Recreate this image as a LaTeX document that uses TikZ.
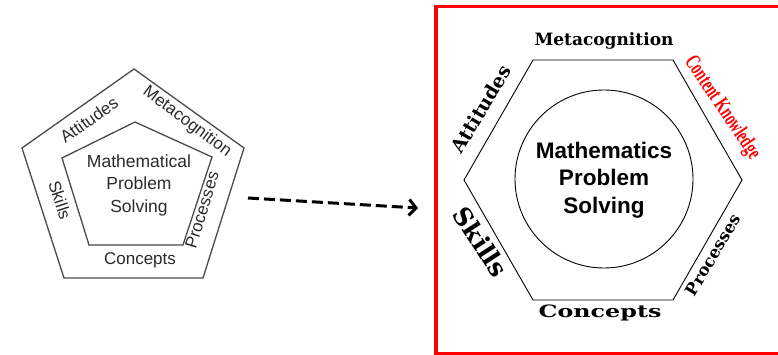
\documentclass[tikz,border=0pt]{standalone}
\usepackage{fontspec}
\setmainfont{Liberation Sans}
\newfontfamily\bkfont{DejaVu Serif}
\newfontfamily\ckfont{Liberation Serif}
\usetikzlibrary{arrows.meta}
\definecolor{lgray}{HTML}{4A4A4A}
\definecolor{ltext}{HTML}{2A2A2A}
\tikzset{
  leftline/.style={draw=lgray, line width=1.3pt, line join=miter},
  leftlabel/.style={text=ltext, inner sep=0pt, font=\fontsize{17}{20}\selectfont},
  rightline/.style={draw=black, line width=0.9pt},
  rightlabel/.style={inner sep=0pt, font=\bkfont\bfseries\fontsize{17}{20}\selectfont},
  centertext/.style={align=center, inner sep=0pt},
}
\begin{document}
\begin{tikzpicture}[x=1pt,y=-1pt]
\useasboundingbox (0,0) rectangle (778,355);
% ---------- left pentagon ----------
\coordinate (o1) at (134,69);
\coordinate (o2) at (244,148);
\coordinate (o3) at (203,278);
\coordinate (o4) at (64,278);
\coordinate (o5) at (22,148);
\coordinate (i1) at (135,122);
\coordinate (i2) at (212,157);
\coordinate (i3) at (183,245);
\coordinate (i4) at (89,245);
\coordinate (i5) at (62,158);
\draw[leftline] (o1) -- (o2) -- (o3) -- (o4) -- (o5) -- cycle;
\draw[leftline] (i1) -- (i2) -- (i3) -- (i4) -- (i5) -- cycle;
\node[centertext, text=ltext, font=\fontsize{17.5}{22.5}\selectfont] (lmps) at (139,185) {Mathematical\\Problem\\Solving};
\node[leftlabel, rotate=35] (latt) at (89,120) {Attitudes};
\node[leftlabel, rotate=-37] (lmet) at (187,122) {Metacognition};
\node[leftlabel, rotate=-72] (lski) at (60,200) {Skills};
\node[leftlabel, rotate=73] (lpro) at (202,210) {Processes};
\node[leftlabel] (lcon) at (140,260) {Concepts};
% ---------- arrow ----------
\coordinate (as) at (248,198);
\coordinate (ae) at (418,208);
\draw[line width=3pt, dash pattern=on 11pt off 5pt, -{Straight Barb[length=7pt,width=16pt,line width=3pt]}] (as) -- (ae);
% ---------- right panel ----------
\draw[red, line width=3.5pt] (436,355) -- (436,6.5) -- (790,6.5);
\draw[red, line width=3.5pt] (436,354) -- (790,354);
\coordinate (h1) at (533,60);
\coordinate (h2) at (673,60);
\coordinate (h3) at (742,180);
\coordinate (h4) at (673,300);
\coordinate (h5) at (533,300);
\coordinate (h6) at (464,180);
\draw[rightline] (h1) -- (h2) -- (h3) -- (h4) -- (h5) -- (h6) -- cycle;
\node[rightline, circle, minimum size=178pt, inner sep=0pt] (circ) at (604,179) {};
\node[centertext, font=\bfseries\fontsize{22.5}{27.5}\selectfont] (rmps) at (604,180) {Mathematics\\Problem\\Solving};
\node[rightlabel] (rmet) at (604,41) {Metacognition};
\node[rightlabel, rotate=59, font=\bkfont\bfseries\fontsize{19}{20}\selectfont] (ratt) at (481,109) {Attitudes};
\node[inner sep=0pt, rotate=-56, text=red, font=\ckfont\bfseries\fontsize{22}{24}\selectfont] (rck) at (722,108) {\scalebox{0.64}[1]{Content Knowledge}};
\node[rightlabel, rotate=-57, font=\bkfont\bfseries\fontsize{25}{26}\selectfont] (rski) at (481,242) {Skills};
\node[rightlabel, rotate=59, font=\bkfont\bfseries\fontsize{16.5}{20}\selectfont] (rpro) at (713,255) {Processes};
\node[rightlabel] (rcon) at (600,313) {\scalebox{1.4}[1]{Concepts}};
\end{tikzpicture}
\end{document}
